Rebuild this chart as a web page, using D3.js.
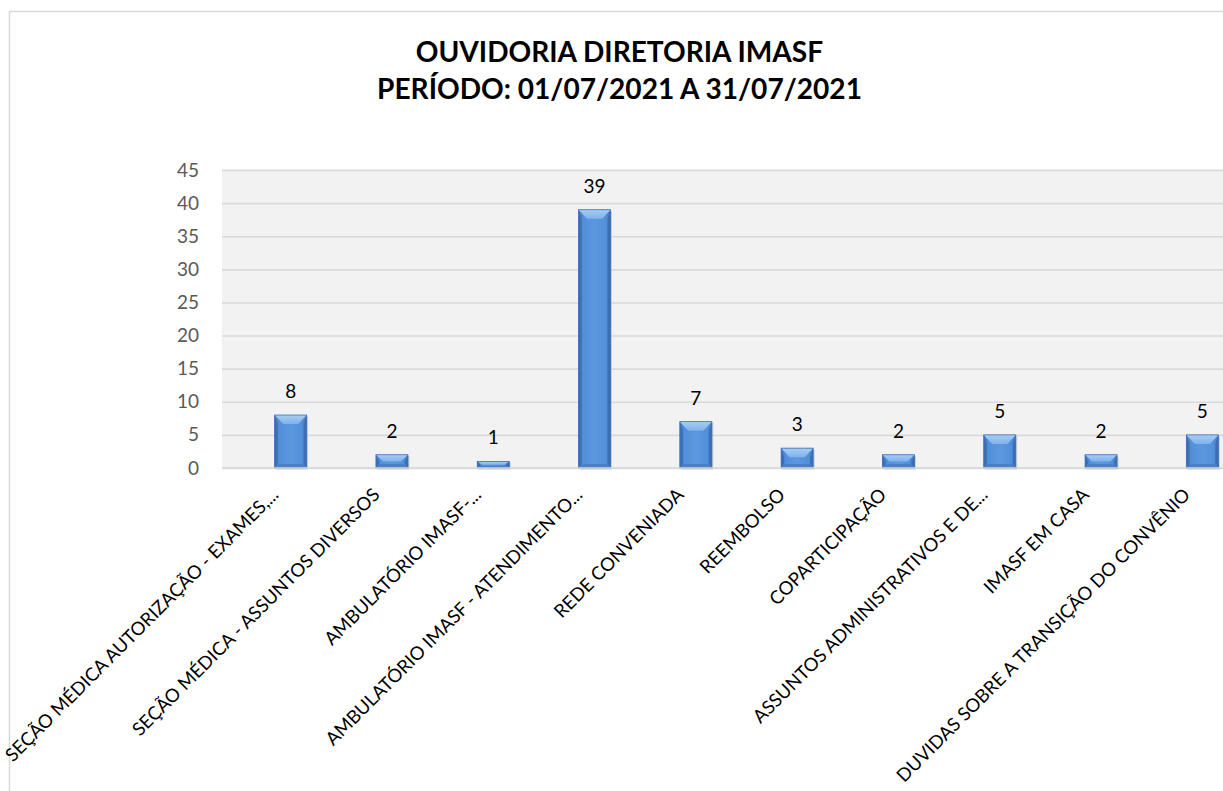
<!DOCTYPE html>
<html>
<head>
<meta charset="utf-8">
<script src="https://cdn.jsdelivr.net/npm/d3@7"></script>
<style>
  html, body { margin: 0; padding: 0; background: #ffffff; overflow: hidden; }
  svg { display: block; }
</style>
</head>
<body>
<svg id="chart" width="1223" height="791"></svg>
<script>
// ---- data ----
const titleLines = ["OUVIDORIA DIRETORIA IMASF", "PERÍODO: 01/07/2021 A 31/07/2021"];
const categories = [
  "SEÇÃO MÉDICA AUTORIZAÇÃO - EXAMES,...",
  "SEÇÃO MÉDICA - ASSUNTOS DIVERSOS",
  "AMBULATÓRIO IMASF-...",
  "AMBULATÓRIO IMASF - ATENDIMENTO...",
  "REDE CONVENIADA",
  "REEMBOLSO",
  "COPARTICIPAÇÃO",
  "ASSUNTOS ADMINISTRATIVOS E DE...",
  "IMASF EM CASA",
  "DUVIDAS SOBRE A TRANSIÇÃO DO CONVÊNIO"
];
const values = [8, 2, 1, 39, 7, 3, 2, 5, 2, 5];
const yTicks = [0, 5, 10, 15, 20, 25, 30, 35, 40, 45];

// ---- layout ----
const FONT = "Lato, 'Open Sans', sans-serif";
const svg = d3.select("#chart");
const plot = { left: 222, right: 1260, top: 170, bottom: 468 };

const x = d3.scaleBand()
  .domain(categories)
  .range([240, 1253])
  .paddingInner(0.684)
  .paddingOuter(0.342);

const y = d3.scaleLinear().domain([0, 45]).range([plot.bottom, plot.top]);

// chart outer border
svg.append("rect")
  .attr("x", 9.5).attr("y", 11.5)
  .attr("width", 1400).attr("height", 1000)
  .attr("fill", "#ffffff")
  .attr("stroke", "#d9d9d9").attr("stroke-width", 1.5);

// plot area background
svg.append("rect")
  .attr("x", plot.left).attr("y", plot.top - 1)
  .attr("width", plot.right - plot.left).attr("height", plot.bottom - plot.top + 2)
  .attr("fill", "#f2f2f2");

// gridlines via axis
const grid = svg.append("g")
  .attr("transform", `translate(${plot.left},0)`)
  .call(d3.axisLeft(y).tickValues(yTicks).tickSize(-(plot.right - plot.left)).tickFormat(""));
grid.select(".domain").remove();
grid.selectAll(".tick line").attr("stroke", "#d9d9d9").attr("stroke-width", 1.6);

// y axis labels
const yAxis = svg.append("g")
  .attr("transform", `translate(${plot.left},0)`)
  .call(d3.axisLeft(y).tickValues(yTicks).tickSize(0).tickPadding(23));
yAxis.select(".domain").remove();
yAxis.selectAll(".tick text")
  .attr("font-family", FONT).attr("font-size", 19).attr("fill", "#595959");

// gradients
const defs = svg.append("defs");
const gMain = defs.append("linearGradient").attr("id", "gMain").attr("x1", 0).attr("x2", 1).attr("y1", 0).attr("y2", 0);
gMain.append("stop").attr("offset", "0%").attr("stop-color", "#3f78c2");
gMain.append("stop").attr("offset", "15%").attr("stop-color", "#5390db");
gMain.append("stop").attr("offset", "50%").attr("stop-color", "#5b98df");
gMain.append("stop").attr("offset", "85%").attr("stop-color", "#5390db");
gMain.append("stop").attr("offset", "100%").attr("stop-color", "#3f78c2");
const gTop = defs.append("linearGradient").attr("id", "gTop").attr("x1", 0).attr("x2", 0).attr("y1", 0).attr("y2", 1);
gTop.append("stop").attr("offset", "0%").attr("stop-color", "#a9cdf3");
gTop.append("stop").attr("offset", "100%").attr("stop-color", "#7fb2ea");

// bars
const bars = svg.append("g").selectAll("g.bar")
  .data(categories.map((c, i) => ({ c, v: values[i] })))
  .join("g").attr("class", "bar");

bars.each(function(d) {
  const g = d3.select(this);
  const x0 = x(d.c), w = x.bandwidth();
  const top = y(d.v), bot = y(0);
  const h = bot - top;
  const bt = Math.min(9, h / 2);       // top bevel depth
  const bs = Math.min(3, w / 4);       // side bevel width
  const bb = Math.min(4, h / 3);       // bottom bevel depth
  g.append("rect").attr("x", x0 + 1.5).attr("y", top + 1.5).attr("width", w).attr("height", h)
    .attr("fill", "#9aa6b4").attr("opacity", 0.45);
  g.append("rect").attr("x", x0).attr("y", top).attr("width", w).attr("height", h)
    .attr("fill", "url(#gMain)");
  g.append("polygon").attr("points", [[x0, top], [x0 + bs, top + bt], [x0 + bs, bot - bb], [x0, bot]].join(" "))
    .attr("fill", "#3a6fb6");
  g.append("polygon").attr("points", [[x0 + w, top], [x0 + w - bs, top + bt], [x0 + w - bs, bot - bb], [x0 + w, bot]].join(" "))
    .attr("fill", "#3a6fb6");
  g.append("polygon").attr("points", [[x0, bot], [x0 + bs, bot - bb], [x0 + w - bs, bot - bb], [x0 + w, bot]].join(" "))
    .attr("fill", "#4a80c8");
  g.append("polygon").attr("points", [[x0, top], [x0 + w, top], [x0 + w - bs - bt * 0.6, top + bt], [x0 + bs + bt * 0.6, top + bt]].join(" "))
    .attr("fill", "url(#gTop)");
  g.append("rect").attr("x", x0).attr("y", top).attr("width", w).attr("height", h)
    .attr("fill", "none").attr("stroke", "#3d72b8").attr("stroke-width", 0.8);
});

// data labels
svg.append("g").selectAll("text")
  .data(categories.map((c, i) => ({ c, v: values[i] })))
  .join("text")
  .attr("x", d => x(d.c) + x.bandwidth() / 2)
  .attr("y", d => y(d.v) - 17)
  .attr("text-anchor", "middle")
  .attr("font-family", FONT).attr("font-size", 19).attr("fill", "#000000")
  .text(d => d.v);

// bottom axis line
svg.append("line")
  .attr("x1", plot.left).attr("x2", plot.right)
  .attr("y1", plot.bottom).attr("y2", plot.bottom)
  .attr("stroke", "#d9d9d9").attr("stroke-width", 1.6);

// x axis labels (rotated)
const xAxis = svg.append("g")
  .attr("transform", `translate(0,${plot.bottom})`)
  .call(d3.axisBottom(x).tickSize(0).tickPadding(0));
xAxis.select(".domain").remove();
xAxis.selectAll(".tick text")
  .attr("font-family", FONT).attr("font-size", 18.5).attr("fill", "#000000")
  .attr("text-anchor", "end")
  .attr("dy", 0).attr("y", 0)
  .attr("transform", "translate(-11,28) rotate(-45)");

// title
const titleG = svg.append("g");
const tLines = titleG.selectAll("text").data(titleLines).join("text")
  .attr("x", 619.5)
  .attr("y", (d, i) => 62 + i * 37)
  .attr("text-anchor", "middle")
  .attr("font-family", FONT).attr("font-weight", 700).attr("font-size", 26)
  .attr("fill", "#000000")
  .text(d => d);
const w2 = tLines.nodes()[1].getComputedTextLength();
const fs = 26 * 485 / w2;
tLines.attr("font-size", fs);
</script>
</body>
</html>
